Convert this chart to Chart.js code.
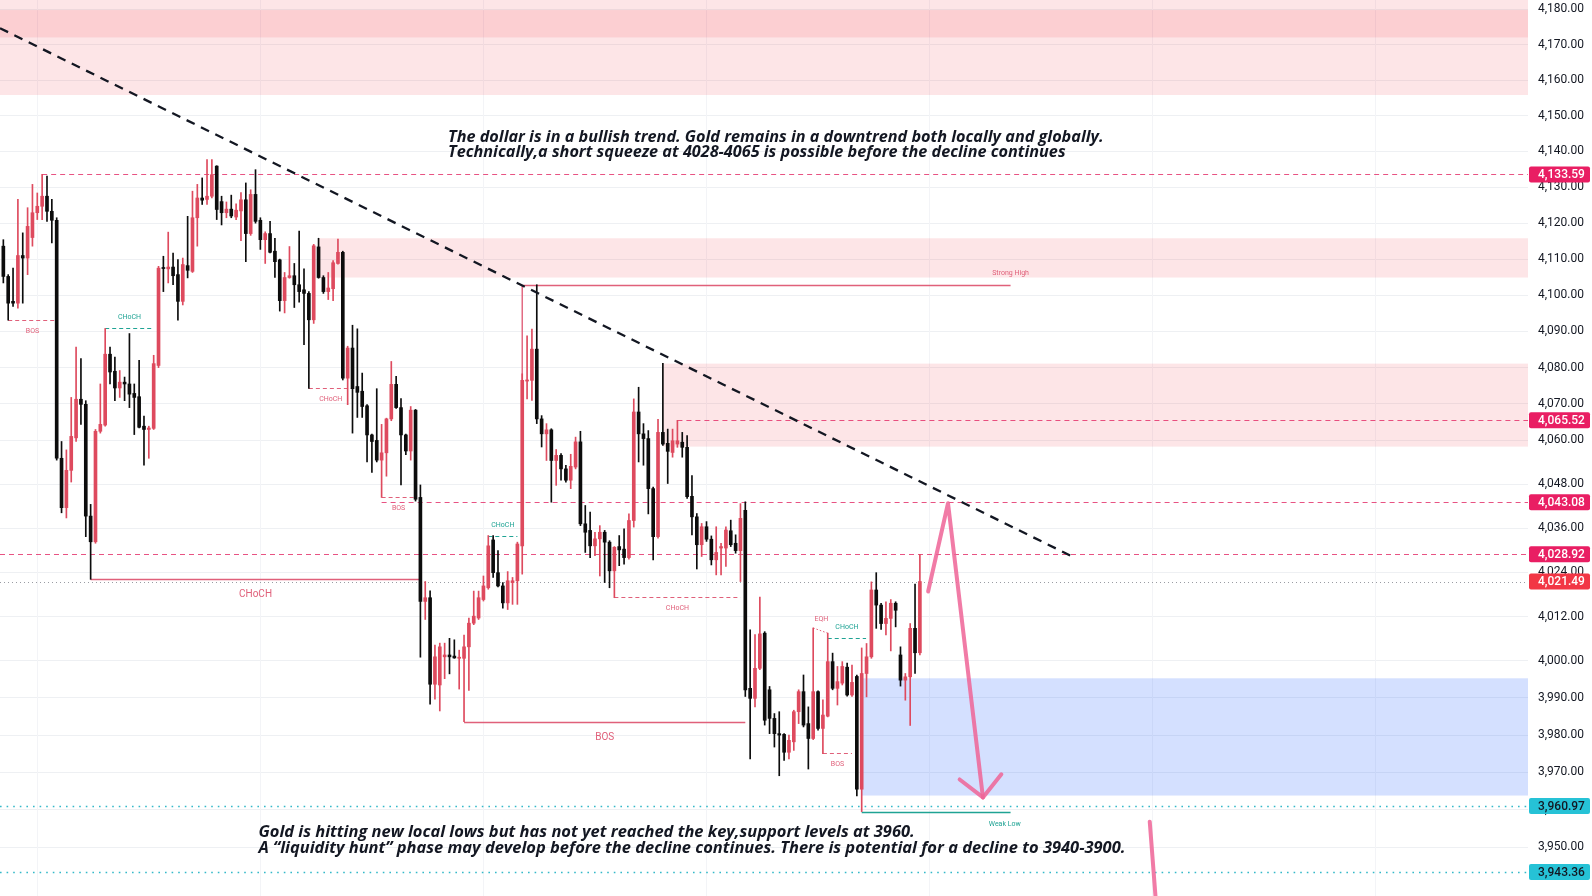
<!DOCTYPE html>
<html>
<head>
<meta charset="utf-8">
<title>XAUUSD</title>
<script src="https://cdn.jsdelivr.net/npm/chart.js@4.4.1/dist/chart.umd.min.js"></script>
<style>
  html, body { margin: 0; padding: 0; background: #fff; }
  #wrap { width: 1592px; height: 896px; position: relative; }
</style>
</head>
<body>
<div id="wrap"><canvas id="chart" width="1592" height="896"></canvas></div>
<script>
// candles (oldest first)
const opens = [
  4113.6,4105.2,4098.3,4097.8,4111.0,4110.3,4116.0,4122.9,4124.7,4127.5,
  4123.3,4120.8,4055.1,4041.6,4051.8,4060.7,4071.3,4069.9,4039.3,4032.3,
  4062.5,4064.2,4083.7,4079.0,4074.4,4076.0,4075.5,4072.9,4072.0,4063.9,
  4063.0,4063.3,4080.6,4107.5,4107.3,4107.8,4105.7,4098.3,4108.2,4106.6,
  4121.5,4127.0,4126.6,4127.5,4135.9,4126.0,4122.9,4123.9,4121.7,4123.4,
  4126.5,4117.1,4128.0,4120.8,4115.4,4117.1,4112.2,4109.8,4098.5,4104.9,
  4105.4,4102.9,4101.5,4100.5,4093.2,4113.4,4104.9,4101.0,4101.8,4108.8,
  4111.9,4077.1,4085.4,4074.8,4073.5,4069.5,4061.5,4060.0,4054.6,4056.6,
  4065.9,4075.4,4069.0,4061.5,4057.1,4068.3,4044.4,4016.1,4017.1,3993.7,
  3993.5,4001.1,4001.6,4001.3,4000.7,4000.7,4003.8,4010.2,4011.6,4016.6,
  4019.8,4032.8,4023.9,4020.3,4015.7,4021.2,4021.7,4031.2,4076.3,4076.5,
  4085.1,4065.9,4061.8,4062.9,4054.5,4055.9,4052.2,4049.1,4052.7,4059.6,
  4037.2,4035.4,4031.2,4033.1,4034.9,4032.2,4024.4,4031.0,4030.3,4028.0,
  4038.1,4067.8,4061.8,4060.5,4046.8,4033.7,4062.2,4059.2,4056.7,4059.0,
  4059.5,4058.1,4044.7,4039.1,4031.5,4036.4,4033.0,4027.4,4030.6,4030.6,
  4035.3,4031.9,4029.9,4040.9,3992.6,3989.9,3998.0,4007.5,3992.2,3984.5,
  3980.4,3980.2,3975.4,3978.2,3986.3,3991.7,3983.1,3979.1,3991.7,3981.8,
  3985.1,3999.8,3992.6,3994.0,3998.3,3990.8,3995.8,3965.5,3996.6,4001.1,
  4019.2,4015.1,4010.1,4011.5,4015.6,4001.6,3994.8,3995.7,4008.8,4002.2
];
const highs = [
  4115.4,4105.7,4107.5,4126.6,4117.3,4124.3,4130.8,4128.4,4133.6,4133.1,
  4126.6,4121.5,4059.7,4057.4,4071.8,4085.7,4082.5,4070.9,4042.5,4063.0,
  4075.5,4090.8,4085.7,4082.9,4079.2,4077.4,4089.4,4075.5,4082.0,4066.7,
  4063.9,4083.4,4108.0,4110.8,4117.5,4111.7,4109.9,4110.3,4121.9,4128.9,
  4130.8,4132.6,4137.7,4137.7,4136.0,4127.5,4125.9,4127.8,4125.4,4128.5,
  4131.2,4129.3,4134.9,4121.5,4117.6,4120.5,4115.8,4110.0,4106.3,4113.5,
  4108.8,4117.8,4107.3,4101.0,4114.1,4115.8,4105.4,4106.3,4109.6,4115.6,
  4112.2,4085.9,4091.7,4090.7,4078.5,4069.8,4061.7,4074.2,4064.4,4066.1,
  4081.7,4077.6,4071.5,4061.7,4069.3,4068.5,4047.8,4021.5,4019.0,4004.3,
  4004.8,4004.8,4006.1,4005.7,4002.9,4007.0,4011.6,4018.9,4018.9,4023.0,
  4034.0,4034.0,4029.9,4021.2,4024.2,4022.6,4032.2,4078.3,4088.8,4090.6,
  4102.9,4066.8,4064.6,4063.2,4057.5,4056.4,4053.2,4056.2,4060.9,4062.5,
  4042.2,4040.4,4034.9,4036.7,4035.4,4032.6,4031.0,4034.0,4035.8,4039.9,
  4071.4,4074.6,4064.6,4062.7,4047.2,4065.8,4081.2,4063.1,4063.1,4065.5,
  4062.2,4061.3,4050.4,4040.0,4037.3,4037.8,4033.9,4036.4,4031.9,4036.4,
  4038.2,4034.2,4042.7,4043.2,4008.4,4007.1,4017.3,4007.9,3993.1,3985.8,
  3986.3,3980.4,3980.0,3986.7,3992.2,3996.2,3987.6,4008.9,3991.9,3989.5,
  4007.5,4002.1,3998.5,3999.8,3999.4,3998.9,3996.2,4003.5,4004.7,4021.4,
  4023.9,4015.6,4016.0,4016.6,4016.0,4003.8,3996.6,4010.1,4020.8,4028.9
];
const lows = [
  4103.4,4093.1,4096.9,4096.4,4097.8,4105.7,4113.6,4121.0,4121.0,4120.5,
  4114.5,4054.6,4040.2,4038.8,4048.6,4059.7,4064.4,4033.7,4022.1,4031.9,
  4062.0,4063.9,4075.5,4070.9,4071.8,4070.9,4069.0,4061.6,4063.4,4053.2,
  4055.1,4063.0,4080.0,4101.0,4103.4,4102.9,4093.1,4097.3,4104.8,4106.3,
  4113.6,4125.2,4125.2,4127.0,4121.0,4119.5,4121.5,4121.5,4121.0,4115.1,
  4109.3,4116.6,4120.0,4112.7,4108.8,4111.7,4104.9,4095.6,4095.1,4104.7,
  4096.6,4098.1,4086.3,4074.3,4092.2,4104.7,4100.5,4098.8,4098.5,4108.6,
  4076.6,4069.8,4062.0,4066.3,4066.3,4054.1,4051.2,4054.1,4044.4,4050.2,
  4065.4,4068.8,4047.8,4056.1,4054.6,4043.4,4001.0,4011.2,3988.3,3989.7,
  3986.5,3995.2,3996.5,4000.7,3992.4,3983.6,3992.0,4009.8,4011.2,4016.2,
  4019.4,4022.6,4020.0,4014.3,4013.9,4015.3,4015.3,4023.5,4071.4,4071.0,
  4064.6,4058.2,4054.5,4043.1,4047.7,4049.1,4048.6,4046.8,4052.2,4036.7,
  4029.4,4028.0,4028.5,4023.0,4021.2,4019.8,4017.1,4025.8,4026.2,4027.6,
  4036.3,4054.1,4053.2,4039.9,4027.4,4033.3,4058.6,4048.2,4055.4,4058.1,
  4055.4,4044.1,4034.2,4024.9,4028.3,4032.4,4026.0,4023.3,4023.3,4025.6,
  4031.0,4029.2,4021.5,3990.4,3973.6,3987.6,3997.6,3982.7,3980.4,3976.8,
  3969.1,3973.2,3973.6,3975.9,3983.1,3982.2,3970.9,3978.8,3981.3,3975.0,
  3984.9,3992.2,3988.1,3993.5,3990.5,3990.4,3963.7,3959.5,3990.3,4000.7,
  4008.8,4008.5,4007.0,4002.7,4009.2,3993.2,3989.4,3982.6,3996.6,4001.6
];
const closes = [
  4105.2,4097.8,4097.8,4111.0,4110.3,4119.1,4122.9,4124.7,4127.5,4123.3,
  4120.8,4055.1,4041.6,4051.8,4061.1,4071.3,4069.9,4039.3,4032.3,4062.5,
  4064.4,4083.7,4078.8,4074.4,4076.0,4075.5,4072.7,4071.8,4063.6,4063.0,
  4063.4,4081.1,4107.5,4107.4,4107.8,4105.4,4098.3,4108.5,4106.9,4121.5,
  4127.0,4126.4,4127.5,4133.5,4123.8,4122.9,4123.9,4122.0,4123.6,4126.5,
  4117.1,4128.0,4120.5,4115.4,4117.1,4111.9,4109.3,4098.5,4104.9,4105.4,
  4102.9,4101.0,4100.5,4093.2,4113.7,4104.9,4101.0,4102.0,4109.0,4111.9,
  4077.1,4085.4,4074.2,4073.2,4069.3,4061.5,4059.7,4054.6,4056.6,4065.9,
  4075.4,4069.0,4061.5,4057.1,4068.3,4043.9,4016.1,4017.1,3993.7,4001.1,
  4003.8,4001.6,4001.1,4000.8,4001.0,4003.8,4010.2,4012.1,4017.1,4020.3,
  4031.2,4023.9,4020.3,4015.7,4021.7,4021.7,4031.7,4076.5,4076.6,4085.1,
  4065.9,4061.8,4062.9,4054.5,4055.9,4052.2,4049.1,4052.9,4059.6,4037.2,
  4034.9,4031.2,4033.1,4034.9,4032.2,4024.4,4030.8,4030.1,4028.0,4038.1,
  4067.8,4061.8,4060.5,4046.8,4033.7,4062.2,4059.0,4057.0,4059.9,4059.9,
  4058.1,4044.6,4039.1,4031.5,4036.4,4033.0,4027.4,4029.4,4031.0,4035.5,
  4031.5,4029.9,4038.7,3992.2,3989.9,3998.0,4007.3,3984.0,3984.5,3980.4,
  3980.0,3975.4,3978.6,3986.3,3991.7,3982.7,3979.1,3991.7,3981.8,3985.4,
  3999.8,3992.6,3994.4,3998.5,3990.8,3994.2,3965.5,3996.6,4001.1,4019.2,
  4015.1,4010.1,4011.5,4015.6,4013.7,3994.8,3995.7,4008.8,4002.2,4021.5
];

// price scale
const yTicks = [4180,4170,4160,4150,4140,4130,4120,4110,4100,4090,4080,4070,4060,
                4048,4036,4024,4012,4000,3990,3980,3970,3960,3950];
const yMin = 3937.0, yMax = 4182.55;
const xMin = -0.69, xMax = 314.4;     // candle slots shown, incl. empty space on the right
const timeGrid = [6.9, 52.9, 98.9, 144.9, 190.9, 236.8, 282.8];

// horizontal levels with price tags
const levelPrices = [4133.59, 4065.52, 4043.08, 4028.92, 4021.49, 3960.97, 3943.36];
const levelFrom   = [8, 139, 78, -1, -1, -1, -1];
const levelKind   = ['pink', 'pink', 'pink', 'pink', 'last', 'teal', 'teal'];

// zones: start candle, top, bottom
const zoneFrom   = [-1, -1, 65, 136, 177];
const zoneTop    = [4195, 4179.7, 4115.8, 4081.1, 3995.3];
const zoneBottom = [4155.8, 4172.0, 4104.9, 4058.3, 3963.8];
const zoneKind   = ['pink', 'pink', 'pink', 'pink', 'blue'];

// structure marks: text, from candle, to candle, price, colour, style, label side, font px
const structureMarks = [
  ['BOS',   1,   11,    4093.1, 'red',  'dash',  'below', 7],
  ['CHoCH', 21,  31,    4090.8, 'teal', 'dash',  'above', 7],
  ['CHoCH', 63,  72,    4074.3, 'red',  'dash',  'below', 7],
  ['BOS',   78,  85,    4044.4, 'red',  'dash',  'below', 7],
  ['CHoCH', 100, 106,   4034.0, 'teal', 'dash',  'above', 7],
  ['CHoCH', 18,  86,    4022.1, 'red',  'solid', 'below', 10],
  ['CHoCH', 126, 152,   4017.4, 'red',  'dash',  'below', 7],
  ['BOS',   95,  153,   3983.6, 'red',  'solid', 'below', 10],
  ['CHoCH', 170, 177.9, 4006.3, 'teal', 'dash',  'above', 7],
  ['BOS',   169, 175,   3975.1, 'red',  'dash',  'below', 7]
];
const swingEnd = 207.7;   // where Strong High / Weak Low lines stop

// drawn trend line and arrows (candle slot, price)
const trendIdx   = [-0.69, 220.1];
const trendPrice = [4174.6, 4028.5];
const arrowIdx   = [190.7, 194.8, 202.0];
const arrowPrice = [4018.8, 4042.8, 3963.3];
const wingIdx    = [197.2, 205.8];
const wingPrice  = [3968.1, 3969.5];
const arrow2Idx   = [236.4, 238.3];
const arrow2Price = [3956.8, 3925.0];

const topText = [
  'The dollar is in a bullish trend. Gold remains in a downtrend both locally and globally.',
  'Technically,a short squeeze at 4028-4065 is possible before the decline continues'
];
const topTextAt = [91.7, 4142.7, 4138.5];
const bottomText = [
  'Gold is hitting new local lows but has not yet reached the key,support levels at 3960.',
  'A \u201cliquidity hunt\u201d phase may develop before the decline continues. There is potential for a decline to 3940-3900.'
];
const bottomTextAt = [52.6, 3952.8, 3948.5];

const UP = '#de4a5e', DOWN = '#0c0c0c';
const RED = '#e0607a', TEAL = '#1fa394';
const PINK_FILL = 'rgba(242, 54, 69, 0.13)', BLUE_FILL = 'rgba(41, 98, 255, 0.2)';

function seg(ctx, x1, y1, x2, y2) {
  ctx.beginPath();
  ctx.moveTo(x1, y1);
  ctx.lineTo(x2, y2);
  ctx.stroke();
}

const marks = {
  id: 'marks',
  beforeDatasetsDraw(chart) {
    const { ctx, chartArea: a } = chart;
    const X = v => chart.scales.x.getPixelForValue(v);
    const Y = v => chart.scales.y.getPixelForValue(v);
    ctx.save();
    ctx.beginPath();
    ctx.rect(a.left, a.top, a.right - a.left, a.bottom - a.top);
    ctx.clip();

    // faint time grid
    ctx.strokeStyle = '#f3f4f7';
    ctx.lineWidth = 1;
    timeGrid.forEach(i => {
      const x = Math.round(X(i)) + 0.5;
      seg(ctx, x, a.top, x, a.bottom);
    });

    // zones
    zoneTop.forEach((t, k) => {
      const x0 = zoneFrom[k] < 0 ? a.left : X(zoneFrom[k]);
      ctx.fillStyle = zoneKind[k] === 'blue' ? BLUE_FILL : PINK_FILL;
      ctx.fillRect(x0, Y(t), a.right - x0, Y(zoneBottom[k]) - Y(t));
    });

    // horizontal levels
    levelPrices.forEach((p, k) => {
      const y = Math.round(Y(p)) + 0.5;
      const x0 = levelFrom[k] < 0 ? a.left : X(levelFrom[k]);
      if (levelKind[k] === 'pink') {
        ctx.strokeStyle = 'rgba(226, 40, 100, 0.8)';
        ctx.lineWidth = 1;
        ctx.setLineDash([5, 4]);
      } else if (levelKind[k] === 'last') {
        ctx.strokeStyle = '#9a9ca3';
        ctx.lineWidth = 1;
        ctx.setLineDash([1, 3]);
      } else {
        ctx.strokeStyle = '#35b9c9';
        ctx.lineWidth = 1.6;
        ctx.setLineDash([1.6, 5]);
      }
      seg(ctx, x0, y, a.right, y);
    });
    ctx.setLineDash([]);

    // structure (BOS / CHoCH)
    ctx.textAlign = 'center';
    ctx.textBaseline = 'middle';
    structureMarks.forEach(([txt, i0, i1, p, col, style, side, fs]) => {
      const c = col === 'red' ? RED : TEAL;
      const y = Math.round(Y(p)) + 0.5;
      ctx.strokeStyle = c;
      ctx.lineWidth = style === 'solid' ? 1.4 : 1.2;
      ctx.setLineDash(style === 'solid' ? [] : [4, 3]);
      seg(ctx, X(i0), y, X(i1), y);
      ctx.fillStyle = c;
      ctx.font = fs + 'px Roboto';
      const dy = side === 'below' ? (fs > 8 ? 15 : 11) : -11;
      ctx.fillText(txt, (X(i0) + X(i1)) / 2, y + dy);
    });
    ctx.setLineDash([]);

    // strong high
    const sh = 110;
    let y = Math.round(Y(highs[sh])) + 0.5;
    ctx.strokeStyle = RED;
    ctx.lineWidth = 1.4;
    seg(ctx, X(107), y, X(swingEnd), y);
    seg(ctx, X(107), y, X(107), Y(closes[107]));
    ctx.fillStyle = RED;
    ctx.font = '7px Roboto';
    ctx.fillText('Strong High', X(swingEnd), y - 12);

    // weak low
    const wl = 177;
    y = Math.round(Y(lows[wl])) + 0.5;
    ctx.strokeStyle = TEAL;
    ctx.lineWidth = 1.5;
    seg(ctx, X(wl), y, X(swingEnd), y);
    ctx.fillStyle = TEAL;
    ctx.fillText('Weak Low', X(swingEnd - 1.2), y + 12);

    // equal highs
    ctx.strokeStyle = RED;
    ctx.lineWidth = 1;
    ctx.setLineDash([1.5, 2]);
    seg(ctx, X(167), Y(highs[167]), X(170), Y(highs[170]));
    ctx.setLineDash([]);
    ctx.fillStyle = RED;
    ctx.fillText('EQH', X(168.7), Y(highs[167]) - 9);

    ctx.restore();
  },
  afterDatasetsDraw(chart) {
    const { ctx, chartArea: a } = chart;
    const X = v => chart.scales.x.getPixelForValue(v);
    const Y = v => chart.scales.y.getPixelForValue(v);
    ctx.save();
    ctx.beginPath();
    ctx.rect(a.left, a.top, a.right - a.left, a.bottom - a.top);
    ctx.clip();

    // trend line
    ctx.strokeStyle = '#131722';
    ctx.lineWidth = 2.3;
    ctx.setLineDash([9, 7]);
    seg(ctx, X(trendIdx[0]), Y(trendPrice[0]), X(trendIdx[1]), Y(trendPrice[1]));
    ctx.setLineDash([]);

    // arrows
    ctx.strokeStyle = 'rgba(238, 100, 150, 0.85)';
    ctx.lineWidth = 4;
    ctx.lineCap = 'round';
    ctx.lineJoin = 'round';
    ctx.beginPath();
    arrowIdx.forEach((i, k) => {
      if (k === 0) ctx.moveTo(X(i), Y(arrowPrice[k]));
      else ctx.lineTo(X(i), Y(arrowPrice[k]));
    });
    ctx.stroke();
    ctx.beginPath();
    ctx.moveTo(X(wingIdx[0]), Y(wingPrice[0]));
    ctx.lineTo(X(arrowIdx[2]), Y(arrowPrice[2]));
    ctx.lineTo(X(wingIdx[1]), Y(wingPrice[1]));
    ctx.stroke();
    seg(ctx, X(arrow2Idx[0]), Y(arrow2Price[0]), X(arrow2Idx[1]), Y(arrow2Price[1]));

    // comments
    ctx.font = 'italic 700 14px "Open Sans"';
    const fs = 14 * 656 / ctx.measureText(topText[0]).width;
    ctx.font = 'italic 700 ' + fs.toFixed(2) + 'px "Open Sans"';
    ctx.fillStyle = '#131722';
    ctx.textAlign = 'left';
    ctx.textBaseline = 'alphabetic';
    topText.forEach((t, k) => ctx.fillText(t, X(topTextAt[0]), Y(topTextAt[k + 1])));
    // lower note is set a touch wider in the picture
    ctx.font = 'italic 700 ' + (fs * 1.015).toFixed(2) + 'px "Open Sans"';
    bottomText.forEach((t, k) => ctx.fillText(t, X(bottomTextAt[0]), Y(bottomTextAt[k + 1])));
    ctx.restore();
  },
  afterDraw(chart) {
    const { ctx, chartArea: a } = chart;
    const Y = v => chart.scales.y.getPixelForValue(v);
    ctx.save();
    ctx.font = '500 12px Roboto';
    ctx.textAlign = 'left';
    ctx.textBaseline = 'middle';
    levelPrices.forEach((p, k) => {
      const y = Y(p);
      const kind = levelKind[k];
      ctx.fillStyle = kind === 'pink' ? '#e91e63' : kind === 'last' ? '#f23645' : '#26c2d6';
      ctx.beginPath();
      ctx.roundRect(a.right + 1, y - 8, 61, 16, 2);
      ctx.fill();
      ctx.fillStyle = kind === 'teal' ? '#131722' : '#ffffff';
      ctx.fillText(p.toLocaleString('en-US', { minimumFractionDigits: 2 }), a.right + 10, y + 0.5);
    });
    ctx.restore();
  }
};

const bodies = opens.map((o, i) => ({ x: i, y: [o, closes[i]] }));
const wicks = lows.map((l, i) => ({ x: i, y: [l, highs[i]] }));
const candleColour = c => closes[c.dataIndex] >= opens[c.dataIndex] ? UP : DOWN;

new Chart(document.getElementById('chart'), {
  type: 'bar',
  data: {
    datasets: [
      { data: wicks, backgroundColor: candleColour, barThickness: 1, grouped: false, order: 2 },
      { data: bodies, backgroundColor: candleColour, barThickness: 3, minBarLength: 1, grouped: false, order: 1 }
    ]
  },
  options: {
    responsive: false,
    animation: false,
    events: [],
    layout: { padding: 0 },
    plugins: { legend: { display: false }, tooltip: { enabled: false } },
    scales: {
      x: { type: 'linear', min: xMin, max: xMax, offset: false, display: false },
      y: {
        type: 'logarithmic',
        position: 'right',
        min: yMin,
        max: yMax,
        afterBuildTicks: s => { s.ticks = yTicks.map(v => ({ value: v })); },
        afterFit: s => { s.width = 64; s.paddingTop = 0; s.paddingBottom = 0; },
        border: { display: false },
        grid: { color: '#eef0f3', drawTicks: false },
        ticks: {
          autoSkip: false,
          padding: 10,
          color: '#131722',
          font: { family: 'Roboto', size: 12 },
          callback: v => Number(v).toLocaleString('en-US', { minimumFractionDigits: 2, maximumFractionDigits: 2 })
        }
      }
    }
  },
  plugins: [marks]
});
</script>
</body>
</html>
